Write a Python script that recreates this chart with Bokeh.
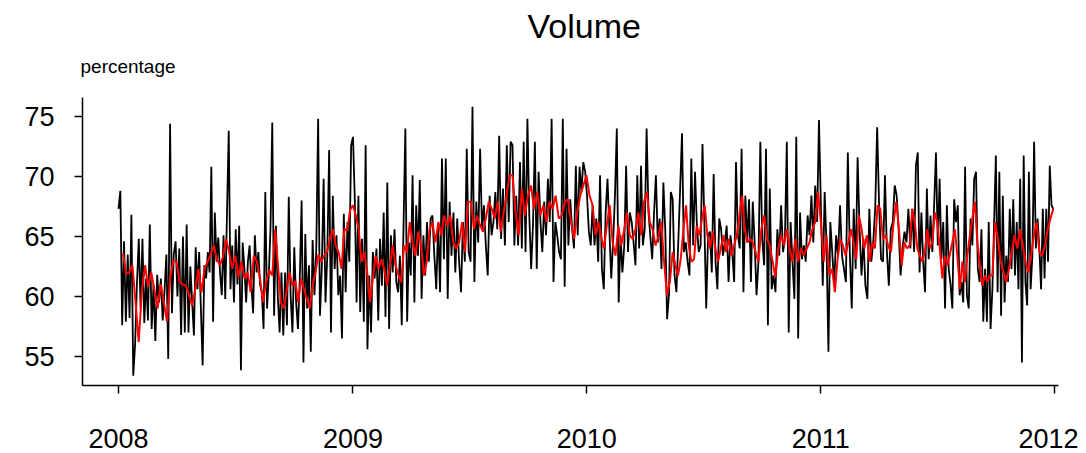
import numpy as np
import pandas as pd
from bokeh.plotting import figure
from bokeh.models import FixedTicker, DatetimeTickFormatter, Range1d, Title
from bokeh.embed import file_html
from bokeh.resources import INLINE

# ---- data (one list per stretch of time) ----
seg_edges = ["2008-01-01", "2008-04-25", "2008-08-28", "2009-01-01", "2009-05-05",
             "2009-09-07", "2010-01-10", "2010-05-15", "2010-09-17", "2011-01-19",
             "2011-05-24", "2011-09-26", "2011-12-30"]
red_start = "2008-01-08"

black_segs = [
    [67.3, 68.8, 57.6, 64.6, 57.9, 63.5, 58.2, 66.8, 53.4, 56.0, 61.0, 64.8, 59.0, 64.8, 57.8, 61.5, 58.0, 66.0, 57.3, 61.0,
     56.3, 61.8, 59.5, 61.5, 58.0, 60.5, 63.5, 54.8, 74.4, 58.6, 63.5, 64.6, 60.0, 64.0, 56.8, 65.0, 57.0, 66.0, 57.0, 62.5],
    [59.5, 56.75, 64.1, 60.6, 63.7, 59.0, 54.25, 62.6, 61.5, 63.7, 62.0, 70.8, 57.9, 67.0, 62.9, 64.9, 62.0, 60.1, 65.1, 59.8,
     67.0, 73.8, 60.6, 64.25, 59.5, 65.6, 61.0, 65.9, 53.85, 64.5, 62.3, 59.5, 62.9, 64.25, 61.0, 58.6, 65.1, 62.0, 63.7, 61.0,
     60.35, 57.3, 68.7, 59.0, 61.75, 65.8],
    [74.5, 58.4, 65.9, 60.1, 57.0, 62.0, 56.75, 62.0, 57.6, 68.3, 60.1, 57.0, 64.1, 59.5, 57.3, 61.5, 68.0, 54.5, 65.2, 59.0,
     62.6, 55.4, 64.7, 60.1, 64.0, 74.8, 58.4, 62.3, 69.8, 59.5, 63.4, 72.2, 57.0, 68.4, 62.3, 65.1, 60.1, 61.75, 56.5, 66.9,
     60.35, 66.2, 62.9, 72.6],
    [73.3, 68.1, 59.5, 68.4, 58.7, 64.8, 57.9, 72.6, 55.6, 61.75, 57.0, 63.7, 61.5, 64.0, 58.0, 64.8, 60.9, 67.0, 58.3, 69.5,
     57.3, 65.1, 62.0, 65.6, 61.2, 60.35, 63.4, 57.6, 65.9, 74.0, 57.9, 64.5, 61.75, 70.1, 59.5, 67.6, 63.4, 69.7, 59.8, 65.1,
     61.75, 66.2, 62.9, 66.5],
    [66.75, 63.4, 60.6, 66.1, 60.35, 71.5, 63.1, 71.5, 59.8, 67.9, 63.4, 67.0, 62.0, 66.5, 62.9, 60.35, 66.2, 62.9, 72.3, 63.7,
     62.9, 75.8, 61.2, 67.9, 64.5, 72.3, 65.6, 67.6, 64.25, 61.75, 68.4, 65.1, 66.2, 68.7, 65.6, 73.4, 64.8, 69.0, 64.25, 72.6,
     66.2, 72.9],
    [72.6, 64.25, 68.4, 64.25, 71.2, 64.0, 72.9, 63.7, 74.8, 66.75, 62.3, 66.0, 72.9, 62.3, 70.4, 66.2, 63.7, 67.9, 65.1, 69.8,
     66.2, 74.8, 61.2, 66.2, 65.1, 63.7, 63.1, 74.8, 60.8, 72.3, 64.25, 68.1, 65.6, 64.0, 70.9, 65.1, 70.8, 68.7, 71.2, 70.4,
     68.4, 65.4, 64.25],
    [67.6, 64.25, 66.5, 62.9, 70.1, 62.3, 60.6, 67.0, 69.8, 65.6, 61.5, 64.5, 68.4, 74.0, 59.5, 65.1, 62.0, 64.25, 70.9, 63.7,
     67.0, 66.2, 64.5, 62.6, 70.1, 64.0, 70.9, 64.25, 65.6, 74.0, 67.0, 65.0, 63.1, 67.0, 70.1, 64.5, 66.5, 62.3, 69.5, 65.6,
     58.1, 60.1, 68.7],
    [68.1, 61.75, 60.35, 64.5, 69.0, 73.6, 63.7, 64.5, 62.9, 61.75, 71.5, 64.25, 70.4, 65.9, 63.7, 64.25, 72.7, 66.2, 59.0, 65.1,
     65.4, 62.0, 70.2, 62.9, 60.6, 66.5, 65.6, 63.4, 64.5, 65.9, 61.2, 65.1, 63.7, 61.2, 71.2, 65.1, 64.0, 72.3, 60.35, 68.4,
     64.5, 68.1, 61.2],
    [67.9, 64.5, 60.1, 62.9, 72.9, 64.8, 62.6, 72.3, 57.6, 69.0, 60.6, 61.75, 60.35, 65.6, 63.4, 67.6, 63.7, 64.8, 72.9, 57.0,
     66.2, 62.9, 59.8, 73.3, 56.5, 67.0, 63.1, 64.25, 62.9, 66.75, 65.1, 68.4, 64.5, 69.25, 66.2, 74.7, 67.6, 60.9, 68.7, 64.25,
     55.4, 66.2],
    [63.7, 60.9, 65.1, 63.4, 67.6, 63.4, 62.3, 61.2, 72.0, 63.7, 59.0, 67.3, 62.3, 71.6, 65.6, 61.75, 64.8, 60.9, 59.8, 67.3,
     62.9, 64.5, 67.3, 74.1, 67.6, 63.1, 62.9, 70.1, 63.7, 60.9, 65.6, 66.2, 69.25, 68.4, 65.6, 61.75, 64.0, 65.4, 64.5, 67.3,
     64.0],
    [67.3, 63.7, 70.9, 72.0, 62.0, 67.0, 62.9, 60.35, 69.0, 63.1, 66.75, 63.7, 67.6, 72.0, 64.25, 69.8, 63.1, 66.2, 59.0, 67.6,
     62.3, 61.0, 59.0, 68.1, 66.2, 67.6, 60.1, 61.2, 59.5, 70.8, 60.1, 59.0, 66.5, 64.25, 69.8, 70.4, 62.3, 61.2, 65.6, 57.9,
     62.3, 57.9, 66.2, 57.3],
    [60.6, 66.2, 71.75, 60.35, 70.4, 58.4, 68.4, 59.5, 63.4, 61.2, 67.3, 62.3, 68.1, 61.75, 66.2, 60.6, 69.8, 54.5, 71.75, 61.2,
     59.25, 70.4, 60.6, 63.4, 72.9, 64.0, 66.5, 64.0, 60.6, 67.3, 61.5, 67.3, 62.9, 70.9, 67.6, 67.3],
]

red_segs = [
    [63.6, 61.9, 62.0, 62.6, 59.5, 56.2, 60.4, 62.6, 60.8, 62.0, 60.5, 59.0, 61.05, 59.5, 57.9, 61.5, 63.0, 62.9, 61.2, 61.0,
     60.9, 60.1],
    [59.25, 60.6, 62.3, 60.35, 62.3, 62.9, 63.5, 64.25, 63.1, 62.6, 63.3, 64.8, 63.7, 62.3, 63.4, 61.6, 62.9, 61.5, 62.0, 60.35,
     63.4, 62.9, 61.5, 59.5, 61.2, 62.2],
    [61.75, 65.6, 62.5, 59.5, 59.0, 60.5, 62.0, 60.9, 61.3, 59.5, 61.5, 60.6, 59.8, 59.0, 60.9, 62.0, 63.5, 62.9, 63.4, 63.7,
     64.8, 65.6, 64.25, 63.7, 62.3, 65.6, 65.5, 67.2],
    [67.6, 66.75, 65.6, 62.9, 63.7, 62.0, 59.5, 61.5, 63.4, 62.3, 63.1, 62.3, 60.9, 62.5, 64.25, 62.6, 61.8, 61.2, 64.25, 63.7,
     66.2, 64.5, 63.4, 65.4, 64.25, 61.75, 62.9, 65.6],
    [66.2, 64.5, 66.2, 65.1, 66.75, 65.9, 66.75, 64.5, 64.0, 64.5, 66.2, 63.7, 67.9, 67.9, 65.6, 66.75, 66.0, 65.4, 66.5, 67.9,
     67.3, 66.5, 67.9, 65.4, 67.0, 68.4, 70.1],
    [70.1, 67.0, 65.1, 69.0, 66.75, 68.4, 69.25, 67.3, 68.7, 66.75, 67.6, 66.2, 67.9, 67.3, 68.4, 66.5, 66.75, 67.9, 68.1, 66.2,
     64.8, 67.0, 68.4, 69.25, 70.1, 68.4],
    [67.6, 65.1, 66.2, 65.0, 64.0, 66.0, 67.6, 64.5, 63.4, 65.9, 64.25, 65.5, 67.0, 65.1, 64.8, 65.6, 67.0, 65.1, 67.9, 68.7,
     66.2, 65.6, 64.25, 65.0, 66.2, 62.9, 60.1, 61.2],
    [63.7, 62.6, 61.75, 63.1, 65.5, 67.6, 64.25, 62.9, 63.1, 65.9, 65.1, 66.5, 67.6, 65.1, 64.0, 65.4, 64.0, 62.9, 64.0, 65.1,
     63.7, 64.8, 63.4, 64.25, 65.1, 66.75, 68.4, 65.6, 64.5, 64.8],
    [64.5, 63.7, 62.9, 65.6, 66.75, 64.8, 64.25, 62.9, 61.6, 64.0, 65.1, 64.25, 65.6, 64.0, 62.9, 64.8, 62.9, 64.0, 63.4, 64.0,
     64.5, 65.6, 66.2, 68.7, 66.2, 62.9, 65.1, 61.75],
    [62.3, 60.35, 63.1, 64.8, 64.25, 63.4, 64.5, 65.6, 64.5, 63.1, 66.75, 65.6, 64.0, 65.1, 62.9, 64.5, 64.0, 67.6, 67.3, 64.8,
     65.1, 64.2, 63.7, 66.2, 67.9, 65.6, 62.6, 64.5, 64.0, 64.25],
    [67.3, 66.2, 64.0, 63.4, 62.9, 63.7, 65.6, 64.0, 64.5, 67.0, 66.2, 64.0, 61.5, 63.4, 62.6, 63.5, 64.5, 65.6, 63.4, 60.6,
     62.9, 61.2, 63.4, 65.1, 66.5, 67.9, 64.5, 62.6, 60.9, 61.75, 61.2, 61.75],
    [61.75, 66.2, 64.8, 62.9, 62.0, 61.2, 62.3, 63.7, 65.1, 64.0, 65.6, 64.2, 62.9, 62.0, 63.4, 65.1, 66.2, 63.7, 63.4, 64.25,
     65.6, 66.5, 67.3],
]

year_ticks = ["2008-01-01", "2009-01-01", "2010-01-01", "2011-01-01", "2012-01-01"]
y_ticks = [55, 60, 65, 70, 75]


def spread(segs, edges):
    xs, ys = [], []
    n = len(segs)
    for i, vals in enumerate(segs):
        s = pd.Timestamp(edges[i])
        e = pd.Timestamp(edges[i + 1])
        frac = np.linspace(0.0, 1.0, len(vals), endpoint=(i == n - 1))
        xs.extend([s + (e - s) * f for f in frac])
        ys.extend(vals)
    return pd.to_datetime(xs), np.array(ys)


bx, by = spread(black_segs, seg_edges)
rx, ry = spread(red_segs, [red_start] + seg_edges[1:])

FONT = "Liberation Sans"

x0 = pd.Timestamp("2008-01-01") - pd.Timedelta(days=56.2)
x1 = pd.Timestamp("2012-01-01") + pd.Timedelta(days=6.2)

p = figure(width=1078, height=453, x_axis_type="datetime",
           x_range=Range1d(x0, x1), y_range=Range1d(52.58, 76.58),
           output_backend="svg", toolbar_location=None,
           min_border_left=82, min_border_right=20, min_border_top=97, min_border_bottom=68)
p.outline_line_color = None
p.xgrid.visible = False
p.ygrid.visible = False
p.background_fill_color = "white"
p.border_fill_color = "white"

p.line(bx, by, line_color="black", line_width=1.8)
p.line(rx, ry, line_color="#FF0000", line_width=2.0)

# axes
p.xaxis.ticker = FixedTicker(ticks=[pd.Timestamp(t).value // 10**6 for t in year_ticks])
p.xaxis.formatter = DatetimeTickFormatter(years="%Y", months="%Y", days="%Y", hours="%Y",
                                          minutes="%Y", seconds="%Y", milliseconds="%Y",
                                          microseconds="%Y", minsec="%Y", hourmin="%Y")
p.yaxis.ticker = FixedTicker(ticks=y_ticks)
for ax in (p.xaxis[0], p.yaxis[0]):
    ax.axis_line_color = "black"
    ax.axis_line_width = 1.5
    ax.major_tick_line_color = "black"
    ax.major_tick_line_width = 1.5
    ax.major_tick_out = 8
    ax.major_tick_in = 0
    ax.minor_tick_line_color = None
    ax.major_label_text_font = FONT
    ax.major_label_text_font_size = "27px"
    ax.major_label_text_color = "black"
p.yaxis.major_label_standoff = 20
p.xaxis.major_label_standoff = 35

# unit label (closest to frame) and main title above it
p.add_layout(Title(text="percentage", align="left", offset=-2, standoff=41,
                   text_font=FONT, text_font_size="19px", text_font_style="normal",
                   text_color="black"), "above")
p.add_layout(Title(text="Volume", align="left", offset=445, standoff=-23,
                   text_font=FONT, text_font_size="34px", text_font_style="normal",
                   text_color="black"), "above")

open("out.html", "w").write(file_html(p, INLINE))
